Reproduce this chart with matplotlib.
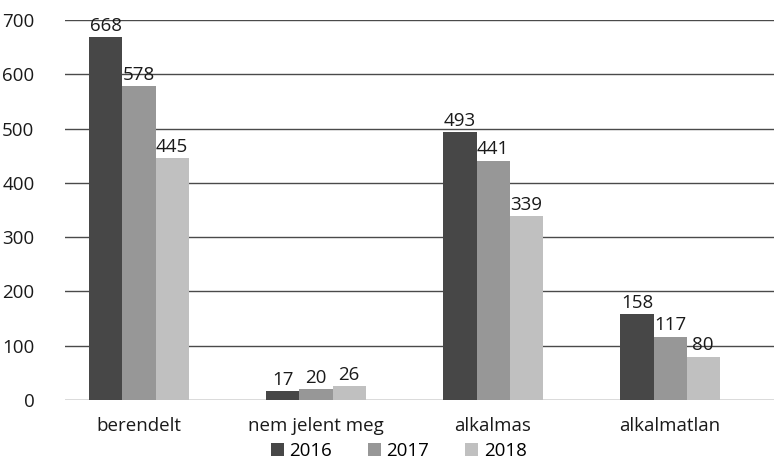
import matplotlib
matplotlib.use("Agg")
import matplotlib.pyplot as plt
import numpy as np

categories = ["berendelt", "nem jelent meg", "alkalmas", "alkalmatlan"]
years = ["2016", "2017", "2018"]
values_2016 = [668, 17, 493, 158]
values_2017 = [578, 20, 441, 117]
values_2018 = [445, 26, 339, 80]
series = [values_2016, values_2017, values_2018]
colors = ["#474747", "#979797", "#c0c0c0"]

plt.rcParams["font.family"] = ["Open Sans", "DejaVu Sans"]
FS = 13.5

fig = plt.figure(figsize=(7.74, 4.62), dpi=100)
ax = fig.add_axes([0.084, 0.134, 0.916, 0.823])

x = np.arange(len(categories))
width = 0.187
for i, (vals, col, yr) in enumerate(zip(series, colors, years)):
    pos = x + (i - 1) * width
    bars = ax.bar(pos, vals, width, color=col, label=yr, zorder=3)
    for b, v in zip(bars, vals):
        ax.text(b.get_x() + b.get_width() / 2, v + 4, str(v),
                ha="center", va="bottom", fontsize=FS, color="#1a1a1a", zorder=4)

ax.set_ylim(0, 700)
ax.set_xlim(-0.418, 3.587)
ax.set_yticks(range(0, 701, 100))
ax.yaxis.grid(True, color="#4a4a4a", linewidth=1.0, zorder=0)
ax.set_axisbelow(True)
for s in ax.spines.values():
    s.set_visible(False)
ax.tick_params(axis="both", length=0, labelsize=FS, colors="#1a1a1a")
ax.tick_params(axis="y", pad=22)
ax.tick_params(axis="x", pad=12)
ax.set_xticks(x)
ax.set_xticklabels(categories)

ax.legend(loc="lower center", bbox_to_anchor=(0.515, 0.0), bbox_transform=fig.transFigure,
          ncol=3, frameon=False, fontsize=FS, handlelength=0.7, handleheight=0.7,
          handletextpad=0.3, columnspacing=1.9, borderaxespad=0.0, borderpad=0.1)

fig.savefig("out.png", dpi=100)
